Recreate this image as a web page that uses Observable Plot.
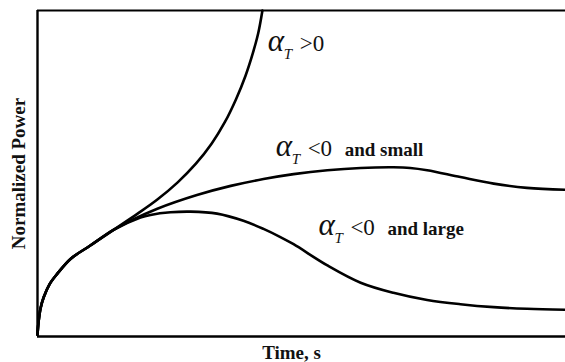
<!DOCTYPE html>
<html>
<head>
<meta charset="utf-8">
<script src="https://cdn.jsdelivr.net/npm/d3@7"></script>
<script src="https://cdn.jsdelivr.net/npm/@observablehq/plot@0.6"></script>
<style>
  html, body { margin: 0; padding: 0; background: #fff; }
  svg { display: block; }
  svg text { font-family: "Liberation Serif", "Times New Roman", Times, "DejaVu Serif", serif !important; }
</style>
</head>
<body>
<div id="chart"></div>
<script>
// Normalized time (0–100) and normalized power (0–100)
const timePositive = [0, 0.19, 0.57, 1.19, 2.27, 3.73, 6.25, 10.0, 14.4, 18.9, 22.7, 26.5, 30.0, 33.0, 35.5, 37.6, 39.4, 40.8, 41.8, 42.6];
const powerPositive = [0.6, 4.3, 8.6, 12.1, 16.0, 19.2, 23.8, 27.9, 32.7, 37.6, 42.0, 47.2, 53.0, 59.2, 65.8, 72.8, 80.0, 87.0, 93.0, 100];

const timeSmall = [0, 0.19, 0.57, 1.19, 2.27, 3.73, 6.25, 10.0, 14.4, 17.6, 22.7, 30.2, 36.6, 42.8, 48.5, 54.9, 61.2, 67.4, 70.6, 73.8, 80.1, 86.4, 92.7, 100];
const powerSmall = [0.6, 4.3, 8.6, 12.1, 16.0, 19.2, 23.8, 27.9, 32.7, 35.5, 39.2, 43.4, 46.2, 48.3, 49.8, 51.0, 51.7, 51.9, 51.7, 51.0, 48.9, 46.9, 45.6, 45.0];

const timeLarge = [0, 0.19, 0.57, 1.19, 2.27, 3.73, 6.25, 10.0, 14.4, 19.5, 21.4, 25.2, 29.0, 34.0, 39.0, 42.8, 46.0, 48.5, 54.9, 61.2, 67.4, 73.8, 80.1, 86.4, 92.7, 100];
const powerLarge = [0.6, 4.3, 8.6, 12.1, 16.0, 19.2, 23.8, 27.9, 32.7, 36.5, 37.3, 38.1, 38.3, 37.7, 35.5, 33.0, 30.5, 28.3, 21.8, 16.5, 13.4, 11.2, 9.9, 9.0, 8.5, 8.2];

// Curve annotations
const labelTime = [43.6, 45.1, 53.2];
const labelPower = [87.7, 55.5, 31.0];
const labelRelation = [">0", "<0", "<0"];
const labelNote = ["", "and small", "and large"];

const xLabel = "Time, s";
const yLabel = "Normalized Power";

const toRows = (xs, ys) => xs.map((x, i) => ({x, y: ys[i]}));
const curves = [toRows(timePositive, powerPositive), toRows(timeSmall, powerSmall), toRows(timeLarge, powerLarge)];
const labels = labelTime.map((x, i) => ({x, y: labelPower[i], rel: labelRelation[i], note: labelNote[i]}));

const serif = "Liberation Serif, Times New Roman, serif";

const chart = Plot.plot({
  width: 565,
  height: 362,
  marginLeft: 37,
  marginRight: 0,
  marginTop: 10,
  marginBottom: 26,
  x: {domain: [0, 100], axis: null},
  y: {domain: [0, 100], axis: null},
  style: {background: "#fff"},
  marks: [
    ...curves.map(c => Plot.line(c, {x: "x", y: "y", curve: "catmull-rom", stroke: "#000", strokeWidth: 2.6})),
    Plot.ruleX([0], {stroke: "#000", strokeWidth: 2.4}),
    Plot.ruleY([0], {stroke: "#000", strokeWidth: 2.6}),
    Plot.ruleY([100], {stroke: "#000", strokeWidth: 2}),
    Plot.text(labels, {x: "x", y: "y", text: () => "α", textAnchor: "start", lineAnchor: "bottom", fontFamily: serif, fontSize: 31, fontStyle: "italic", fill: "#111"}),
    Plot.text(labels, {x: "x", y: "y", text: () => "T", textAnchor: "start", lineAnchor: "bottom", dx: 16, dy: 8, fontFamily: serif, fontSize: 15, fontStyle: "italic", fill: "#111"}),
    Plot.text(labels, {x: "x", y: "y", text: "rel", textAnchor: "start", lineAnchor: "bottom", dx: 32, fontFamily: serif, fontSize: 23, fill: "#111"}),
    Plot.text(labels, {x: "x", y: "y", text: "note", textAnchor: "start", lineAnchor: "bottom", dx: 69, fontFamily: serif, fontSize: 19, fontWeight: "bold", fill: "#111"}),
    Plot.text([xLabel], {frameAnchor: "bottom", text: d => d, textAnchor: "middle", lineAnchor: "bottom", dx: -10, dy: 22, fontFamily: serif, fontSize: 19, fontWeight: "bold", fill: "#111"}),
    Plot.text([yLabel], {frameAnchor: "left", text: d => d, textAnchor: "middle", lineAnchor: "middle", rotate: -90, dx: -19, fontFamily: serif, fontSize: 19, fontWeight: "bold", fill: "#111"})
  ]
});
document.getElementById("chart").appendChild(chart);
</script>
</body>
</html>
